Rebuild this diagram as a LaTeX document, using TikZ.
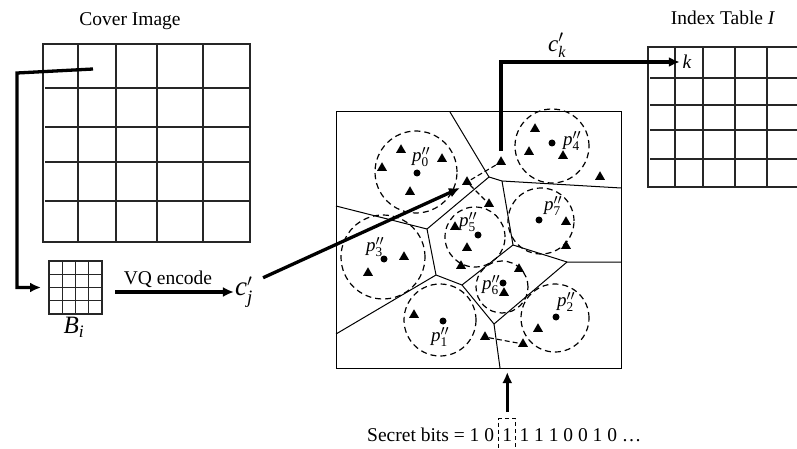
\documentclass[tikz,border=0pt]{standalone}
\usepackage{amsmath}
\usepackage{fontspec}
\setmainfont{Liberation Serif}
\usetikzlibrary{arrows.meta,shapes.geometric}
\begin{document}
\begin{tikzpicture}[x=1pt,y=-1pt,
  gridl/.style={line width=1.3pt, draw=black!85},
  vor/.style={line width=1pt},
  dcirc/.style={line width=1.2pt, dash pattern=on 6pt off 4pt},
  tri/.style={regular polygon, regular polygon sides=3, fill=black, inner sep=0pt, minimum size=11.5pt},
  dot/.style={circle, fill=black, inner sep=0pt, minimum size=7pt},
  bigarrow/.style={line width=3.3pt, -{Latex[length=11pt,width=10pt]}},
  lbl/.style={font=\fontsize{19.5}{22}\selectfont, inner sep=0pt},
  plbl/.style={font=\fontsize{19}{22}\selectfont, inner sep=0pt},
  dline/.style={line width=1.1pt, dash pattern=on 5pt off 3pt}]

\useasboundingbox (0,0) rectangle (797,449);

% ---------- Cover image ----------
\node[gridl, draw, minimum width=207pt, minimum height=198pt, inner sep=0pt, outer sep=0pt] (cover) at (146.5,143) {};
\foreach \x in {78,116,157,203} \draw[gridl] (\x,44) -- (\x,242);
\foreach \y in {88,127,162,201} \draw[gridl] (45,\y) -- (250,\y);
\node[lbl] (covertitle) at (130,21) {Cover Image};

% ---------- Block B_i ----------
\node[gridl, draw, minimum size=53pt, inner sep=0pt, outer sep=0pt] (bblk) at (75.5,287.5) {};
\foreach \x in {62.25,75.5,88.75} \draw[gridl] (\x,261) -- (\x,314);
\foreach \y in {274.25,287.5,300.75} \draw[gridl] (49,\y) -- (102,\y);
\node[font=\fontsize{25}{28}\selectfont, inner sep=0pt] (bi) at (74,327) {\textit{B}$_{\text{\itshape i}}$};

\coordinate (cstart) at (93,69);
\draw[bigarrow] (cstart) -- (17,73) |- ([xshift=-8pt]bblk.west);

% ---------- VQ encode ----------
\node[font=\fontsize{27}{30}\selectfont, inner sep=1pt] (cj) at (244,292) {\textit{c}$'_{\text{\itshape j}}$};
\draw[bigarrow] ([xshift=13pt,yshift=-4.5pt]bblk.east) -- ([yshift=-4.5pt]bblk.east -| cj.west);
\node[lbl] (vq) at (168,279) {VQ encode};

% ---------- Voronoi box ----------
\node[draw, line width=1pt, minimum width=285pt, minimum height=256pt, inner sep=0pt, outer sep=0pt] (vbox) at (478.5,240) {};
\coordinate (T0) at (450,112);
\coordinate (A) at (489,177);
\coordinate (B) at (502,181);
\coordinate (Rb) at (621,188);
\coordinate (C) at (427,229);
\coordinate (L1) at (336,206);
\coordinate (D) at (513,245);
\coordinate (E) at (567,262);
\coordinate (Re) at (621,262);
\coordinate (F) at (436,275);
\coordinate (G) at (462,285);
\coordinate (L2) at (336,334);
\coordinate (H) at (494,324);
\coordinate (Bot) at (500,368);
\draw[vor] (T0) -- (A) -- (B) -- (Rb);
\draw[vor] (A) -- (C) -- (F) -- (G) -- (D) -- (B);
\draw[vor] (L1) -- (C);
\draw[vor] (D) -- (E) -- (Re);
\draw[vor] (F) -- (L2);
\draw[vor] (G) -- (H) -- (E);
\draw[vor] (H) -- (Bot);

% circles
\draw[dcirc] (416,172) circle[radius=41pt];
\draw[dcirc] (552,146) circle[radius=37pt];
\draw[dcirc] (541,221) circle[radius=33pt];
\draw[dcirc] (475,237) circle[radius=30pt];
\draw[dcirc] (383,257) circle[radius=42pt];
\draw[dcirc] (502,287) circle[radius=26pt];
\draw[dcirc] (440,320) circle[radius=36pt];
\draw[dcirc] (555,318) circle[radius=34pt];

% centroids
\node[dot] (d0) at (417,173) {};
\node[dot] (d4) at (552,143) {};
\node[dot] (d7) at (539,220) {};
\node[dot] (d5) at (478,235) {};
\node[dot] (d3) at (384,259) {};
\node[dot] (d6) at (503,283) {};
\node[dot] (d1) at (443,321) {};
\node[dot] (d2) at (556,317) {};

% labels
\node[plbl] (l0) at (421,157) {\textit{p}$''_{\text{0}}$};
\node[plbl] (l4) at (572,141) {\textit{p}$''_{\text{4}}$};
\node[plbl] (l7) at (553,206) {\textit{p}$''_{\text{7}}$};
\node[plbl] (l5) at (468,222) {\textit{p}$''_{\text{5}}$};
\node[plbl] (l3) at (375,247) {\textit{p}$''_{\text{3}}$};
\node[plbl] (l6) at (491,285) {\textit{p}$''_{\text{6}}$};
\node[plbl] (l1) at (440,337) {\textit{p}$''_{\text{1}}$};
\node[plbl] (l2) at (566,302) {\textit{p}$''_{\text{2}}$};

% triangles
\node[tri] (ta) at (501,162) {};
\node[tri] (tb) at (467,182) {};
\node[tri] (tc) at (489,204) {};
\node[tri] (t01) at (401,150) {};
\node[tri] (t02) at (382,168) {};
\node[tri] (t03) at (442,159) {};
\node[tri] (t04) at (410,192) {};
\node[tri] (t41) at (535,129) {};
\node[tri] (t42) at (529,152) {};
\node[tri] (t43) at (563,156) {};
\node[tri] (t44) at (600,177) {};
\node[tri] (t71) at (566,222) {};
\node[tri] (t72) at (566,246) {};
\node[tri] (t51) at (455,227) {};
\node[tri] (t52) at (467,248) {};
\node[tri] (t53) at (461,266) {};
\node[tri] (t31) at (404,257) {};
\node[tri] (t32) at (368,273) {};
\node[tri] (t61) at (519,269) {};
\node[tri] (t62) at (504,293) {};
\node[tri] (t11) at (414,315) {};
\node[tri] (t12) at (485,337) {};
\node[tri] (t21) at (538,329) {};
\node[tri] (t22) at (523,344) {};

\draw[dline] (ta) -- (tb) -- (tc);
\draw[dline] (t12) -- (t22);

% arrow from c'_j into the codebook
\draw[bigarrow] ([xshift=9pt,yshift=-2pt]cj.north east) -- ([xshift=-7pt,yshift=-6pt]tb.center);

% ---------- Index table ----------
\draw[gridl] (797,47) -- (648,47) -- (648,187) -- (797,187);
\foreach \x in {675,703,735,767} \draw[gridl] (\x,47) -- (\x,187);
\foreach \y in {78,105,130,159} \draw[gridl] (650,\y) -- (797,\y);
\node[lbl] (ititle) at (723,18) {Index Table \textit{I}};
\node[lbl, inner sep=2.5pt] (k) at (687,62) {\textit{k}};
\node[font=\fontsize{23}{26}\selectfont, inner sep=0pt] (ck) at (557,45) {\textit{c}$'_{\text{\itshape k}}$};
\draw[bigarrow] ([yshift=5pt]ta.north) |- (k.west);

% ---------- Secret bits ----------
\node[lbl, anchor=base west] (sb1) at (367,441) {Secret bits = 1 0};
\node[lbl, anchor=base west, draw, line width=1pt, dash pattern=on 4pt off 3pt, minimum width=17pt, minimum height=32pt, inner sep=0pt] (sbx) at ([xshift=4pt]sb1.base east) {1};
\node[lbl, anchor=base west] (sb2) at ([xshift=3pt]sbx.base east) {1 1 1 0 0 1 0 …};
\draw[bigarrow] ([yshift=6pt]sbx.north) -- ([yshift=-4pt]sbx.north |- vbox.south);

\end{tikzpicture}
\end{document}
